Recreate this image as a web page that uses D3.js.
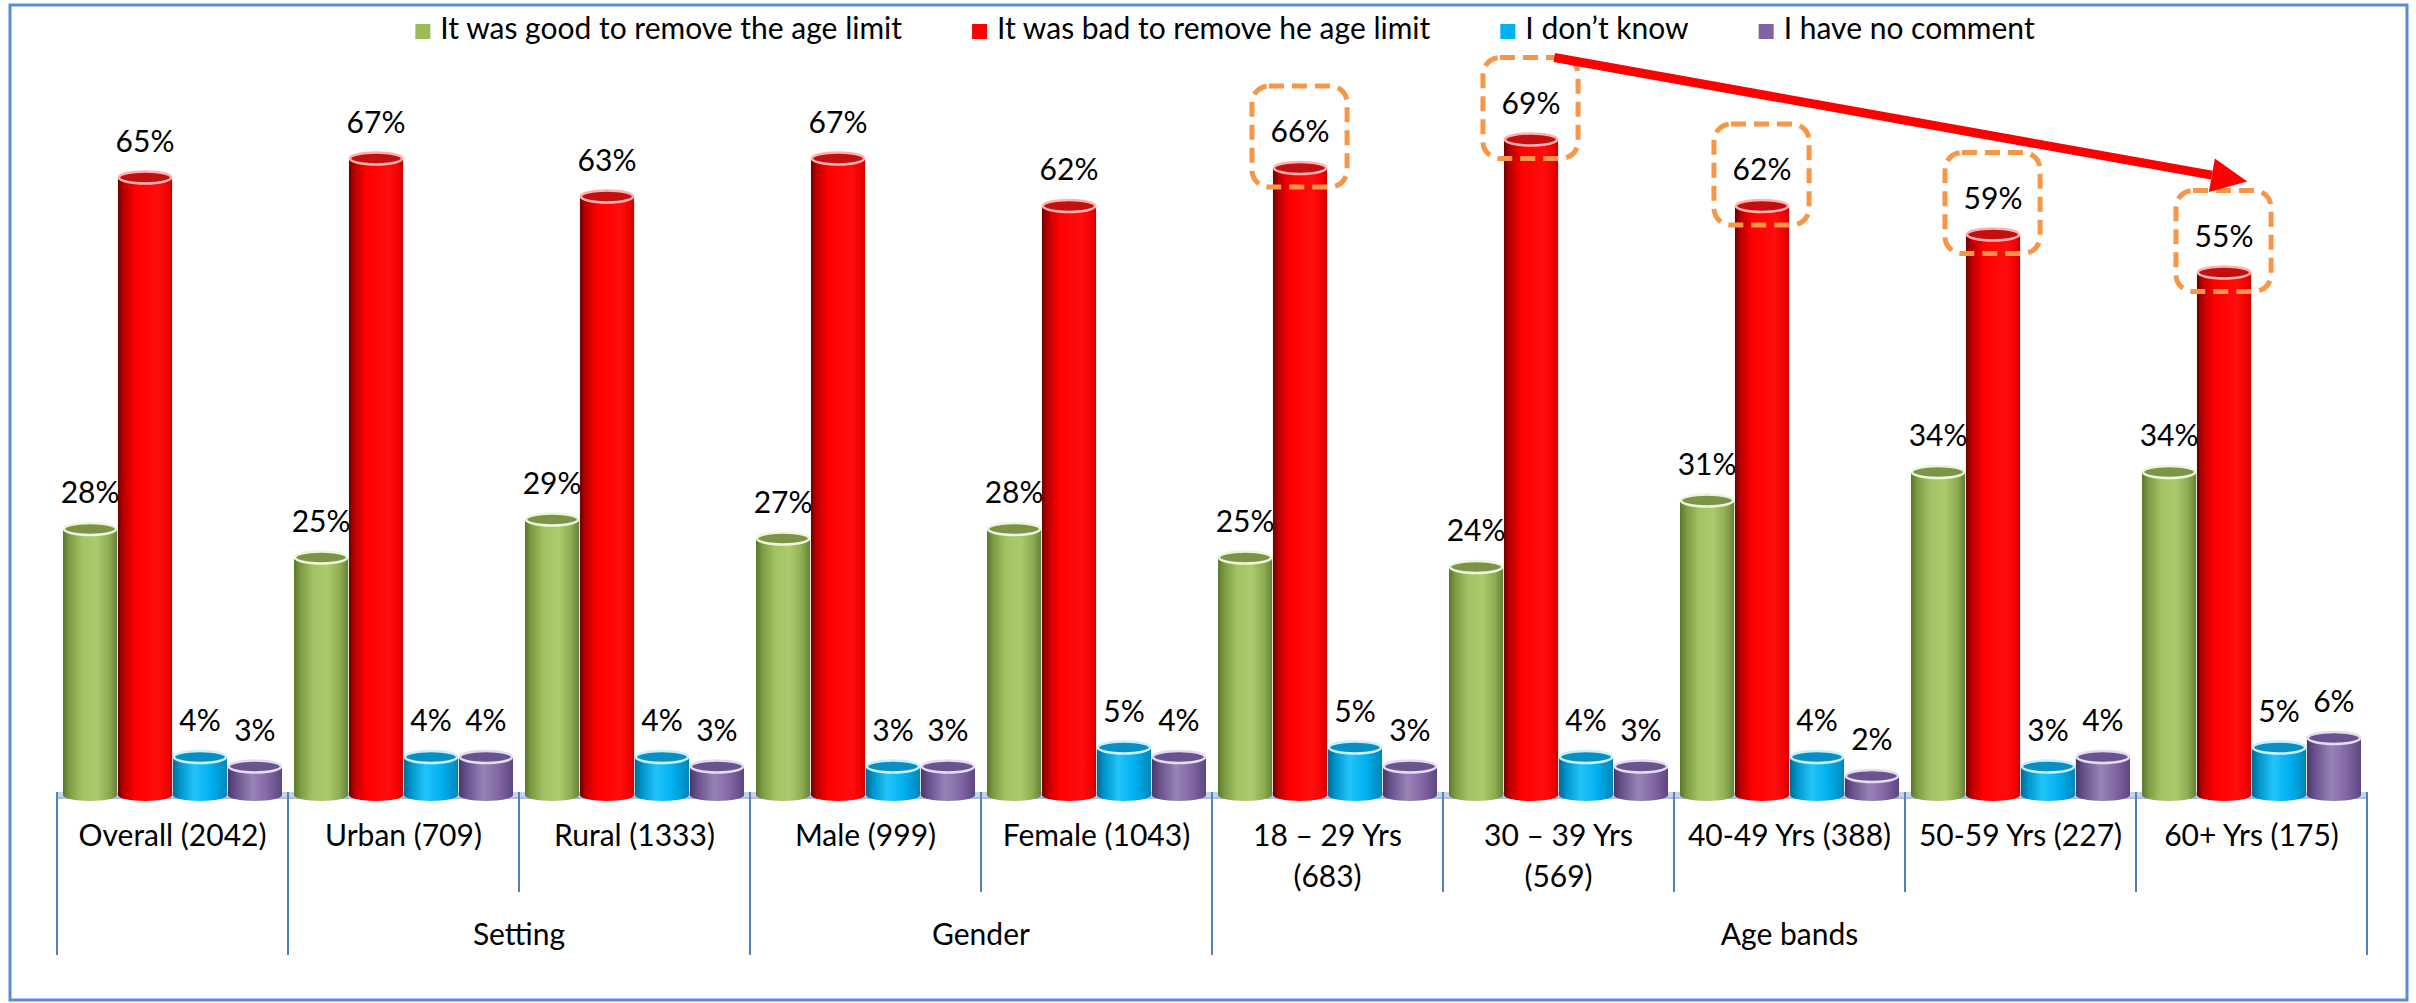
<!DOCTYPE html>
<html><head><meta charset="utf-8">
<script src="https://cdn.jsdelivr.net/npm/d3@7"></script>
<style>
html,body{margin:0;padding:0;background:#fff;}
svg text{font-family:Lato,"Open Sans",sans-serif;fill:#000;}
</style></head><body>
<svg id="chart" width="2416" height="1003"></svg>
<script>
// ---------- DATA ----------
const categories = ["Overall (2042)", "Urban (709)", "Rural (1333)", "Male (999)", "Female (1043)",
  "18 – 29 Yrs (683)", "30 – 39 Yrs (569)", "40-49 Yrs (388)", "50-59 Yrs (227)", "60+ Yrs (175)"];
const categoryLines = [["Overall (2042)"], ["Urban (709)"], ["Rural (1333)"], ["Male (999)"], ["Female (1043)"],
  ["18 – 29 Yrs", "(683)"], ["30 – 39 Yrs", "(569)"], ["40-49 Yrs (388)"], ["50-59 Yrs (227)"], ["60+ Yrs (175)"]];
const groupNames = ["", "Setting", "Gender", "Age bands"];
const groupOf = [0, 1, 1, 2, 2, 3, 3, 3, 3, 3];
const seriesNames = ["It was good to remove the age limit", "It was bad to remove he age limit", "I don’t know", "I have no comment"];
const goodValues      = [28, 25, 29, 27, 28, 25, 24, 31, 34, 34];
const badValues       = [65, 67, 63, 67, 62, 66, 69, 62, 59, 55];
const dontKnowValues  = [4, 4, 4, 3, 5, 5, 4, 4, 3, 5];
const noCommentValues = [3, 4, 3, 3, 4, 3, 3, 2, 4, 6];
const highlightedCategories = ["18 – 29 Yrs (683)", "30 – 39 Yrs (569)", "40-49 Yrs (388)", "50-59 Yrs (227)", "60+ Yrs (175)"];
const arrowFrom = "30 – 39 Yrs (569)";
const arrowTo = "60+ Yrs (175)";

const seriesValues = [goodValues, badValues, dontKnowValues, noCommentValues];

// ---------- STYLE ----------
const gradStops = [
  [[0,"#5b782a"],[0.12,"#7c9b43"],[0.35,"#a2c364"],[0.62,"#abcb6d"],[0.85,"#8eab51"],[1,"#66823a"]],
  [[0,"#6e0000"],[0.1,"#b80000"],[0.32,"#ff0000"],[0.75,"#ff0d0d"],[0.92,"#f20000"],[1,"#c80000"]],
  [[0,"#006a94"],[0.14,"#0096cc"],[0.4,"#22c4fa"],[0.7,"#00b0f0"],[1,"#0086b8"]],
  [[0,"#4a3766"],[0.14,"#68508c"],[0.45,"#9783b6"],[0.72,"#8468a6"],[1,"#5d4680"]]
];
const topFill = ["#7d9446", "#c01010", "#0a8fc2", "#6a5490"];
const topStroke = ["#eef5dc", "#ffb0b0", "#c8f0ff", "#e4dcf0"];
const legendColors = ["#9bbb59", "#ff0000", "#00b0f0", "#8064a2"];

const svg = d3.select("#chart");
const baseY = 795;
const x0 = d3.scaleBand().domain(categories).range([57, 2367]);
const x1 = d3.scaleBand().domain(seriesNames).range([6, 225]).paddingInner(0.015);
const y = d3.scaleLinear().domain([0, 70]).range([baseY, 130]);
const bw = x1.bandwidth();
const ry = 6;

// gradients
const defs = svg.append("defs");
gradStops.forEach((stops, j) => {
  const g = defs.append("linearGradient").attr("id", "g" + j).attr("x1", "0").attr("x2", "1").attr("y1", "0").attr("y2", "0");
  stops.forEach(s => g.append("stop").attr("offset", s[0]).attr("stop-color", s[1]));
});

// outer border
svg.append("rect").attr("x", 10).attr("y", 5).attr("width", 2397).attr("height", 995)
  .attr("fill", "none").attr("stroke", "#5b8bd1").attr("stroke-width", 3);

// floor
svg.append("rect").attr("x", x0.range()[0]).attr("y", baseY - 3).attr("width", x0.range()[1] - x0.range()[0]).attr("height", 7)
  .attr("fill", "#c7d3e4");
svg.append("line").attr("x1", x0.range()[0]).attr("x2", x0.range()[1]).attr("y1", baseY + 3).attr("y2", baseY + 3)
  .attr("stroke", "#a9bad3").attr("stroke-width", 1.5);

// bars
const bars = svg.append("g");
categories.forEach((cat, i) => {
  seriesNames.forEach((s, j) => {
    const v = seriesValues[j][i];
    const bx = x0(cat) + x1(s);
    const top = y(v);
    const g = bars.append("g");
    g.append("ellipse").attr("cx", bx + bw / 2).attr("cy", baseY).attr("rx", bw / 2).attr("ry", ry).attr("fill", "url(#g" + j + ")");
    g.append("rect").attr("x", bx).attr("y", top).attr("width", bw).attr("height", baseY - top).attr("fill", "url(#g" + j + ")");
    g.append("ellipse").attr("cx", bx + bw / 2).attr("cy", top).attr("rx", bw / 2 - 1).attr("ry", ry)
      .attr("fill", topFill[j]).attr("stroke", topStroke[j]).attr("stroke-width", 2.5);
    g.append("text").attr("x", bx + bw / 2).attr("y", top - ry - 20).attr("text-anchor", "middle")
      .attr("font-size", 30).text(v + "%");
  });
});

// dividers
const bounds = d3.range(categories.length + 1);
bounds.forEach(k => {
  const xx = k < categories.length ? x0(categories[k]) : x0.range()[1];
  const long = k === 0 || k === categories.length || groupOf[k] !== groupOf[k - 1];
  svg.append("line").attr("x1", xx).attr("x2", xx).attr("y1", baseY - 3).attr("y2", long ? 955 : 892)
    .attr("stroke", "#4f81bd").attr("stroke-width", 2);
});

// category labels
categories.forEach((cat, i) => {
  const t = svg.append("text").attr("text-anchor", "middle").attr("font-size", 30);
  categoryLines[i].forEach((ln, li) => {
    t.append("tspan").attr("x", x0(cat) + x0.bandwidth() / 2).attr("y", 846 + li * 41).text(ln);
  });
});

// group labels
groupNames.forEach((gname, gi) => {
  if (!gname) return;
  const idx = categories.filter((c, i) => groupOf[i] === gi);
  const gx = (x0(idx[0]) + x0(idx[idx.length - 1]) + x0.bandwidth()) / 2;
  svg.append("text").attr("x", gx).attr("y", 945).attr("text-anchor", "middle").attr("font-size", 30).text(gname);
});

// legend
const leg = svg.append("g");
let lx = 0;
seriesNames.forEach((s, j) => {
  leg.append("rect").attr("x", lx).attr("y", 24).attr("width", 15).attr("height", 15).attr("fill", legendColors[j]);
  const t = leg.append("text").attr("x", lx + 25).attr("y", 39).attr("font-size", 30).text(s);
  lx += 25 + t.node().getComputedTextLength() + 70;
});
const legW = lx - 70;
leg.attr("transform", "translate(" + (1225 - legW / 2) + ",0)");

// highlight boxes
const boxOf = cat => {
  const bx = x0(cat) + x1(seriesNames[1]);
  const top = y(badValues[categories.indexOf(cat)]) - ry;
  return {x: bx - 21, y: top - 76, w: bw + 41, h: 101};
};
highlightedCategories.forEach(cat => {
  const b = boxOf(cat);
  svg.append("rect").attr("x", b.x).attr("y", b.y).attr("width", b.w).attr("height", b.h).attr("rx", 17).attr("ry", 17)
    .attr("fill", "none").attr("stroke", "#f79646").attr("stroke-width", 5).attr("stroke-dasharray", "15,8");
});

// arrow
const bA = boxOf(arrowFrom), bB = boxOf(arrowTo);
const sx = bA.x + bA.w * 0.75, sy = bA.y;
const ex = bB.x + bB.w * 0.75, ey = bB.y - 9;
const ang = Math.atan2(ey - sy, ex - sx);
const hl = 36, hw = 17;
const bxp = ex - hl * Math.cos(ang), byp = ey - hl * Math.sin(ang);
svg.append("line").attr("x1", sx).attr("y1", sy).attr("x2", bxp).attr("y2", byp)
  .attr("stroke", "#ff0000").attr("stroke-width", 9);
svg.append("polygon").attr("fill", "#ff0000").attr("points", [
  [ex, ey],
  [bxp + hw * Math.sin(ang), byp - hw * Math.cos(ang)],
  [bxp - hw * Math.sin(ang), byp + hw * Math.cos(ang)]
].map(p => p.join(",")).join(" "));
</script>
</body></html>
